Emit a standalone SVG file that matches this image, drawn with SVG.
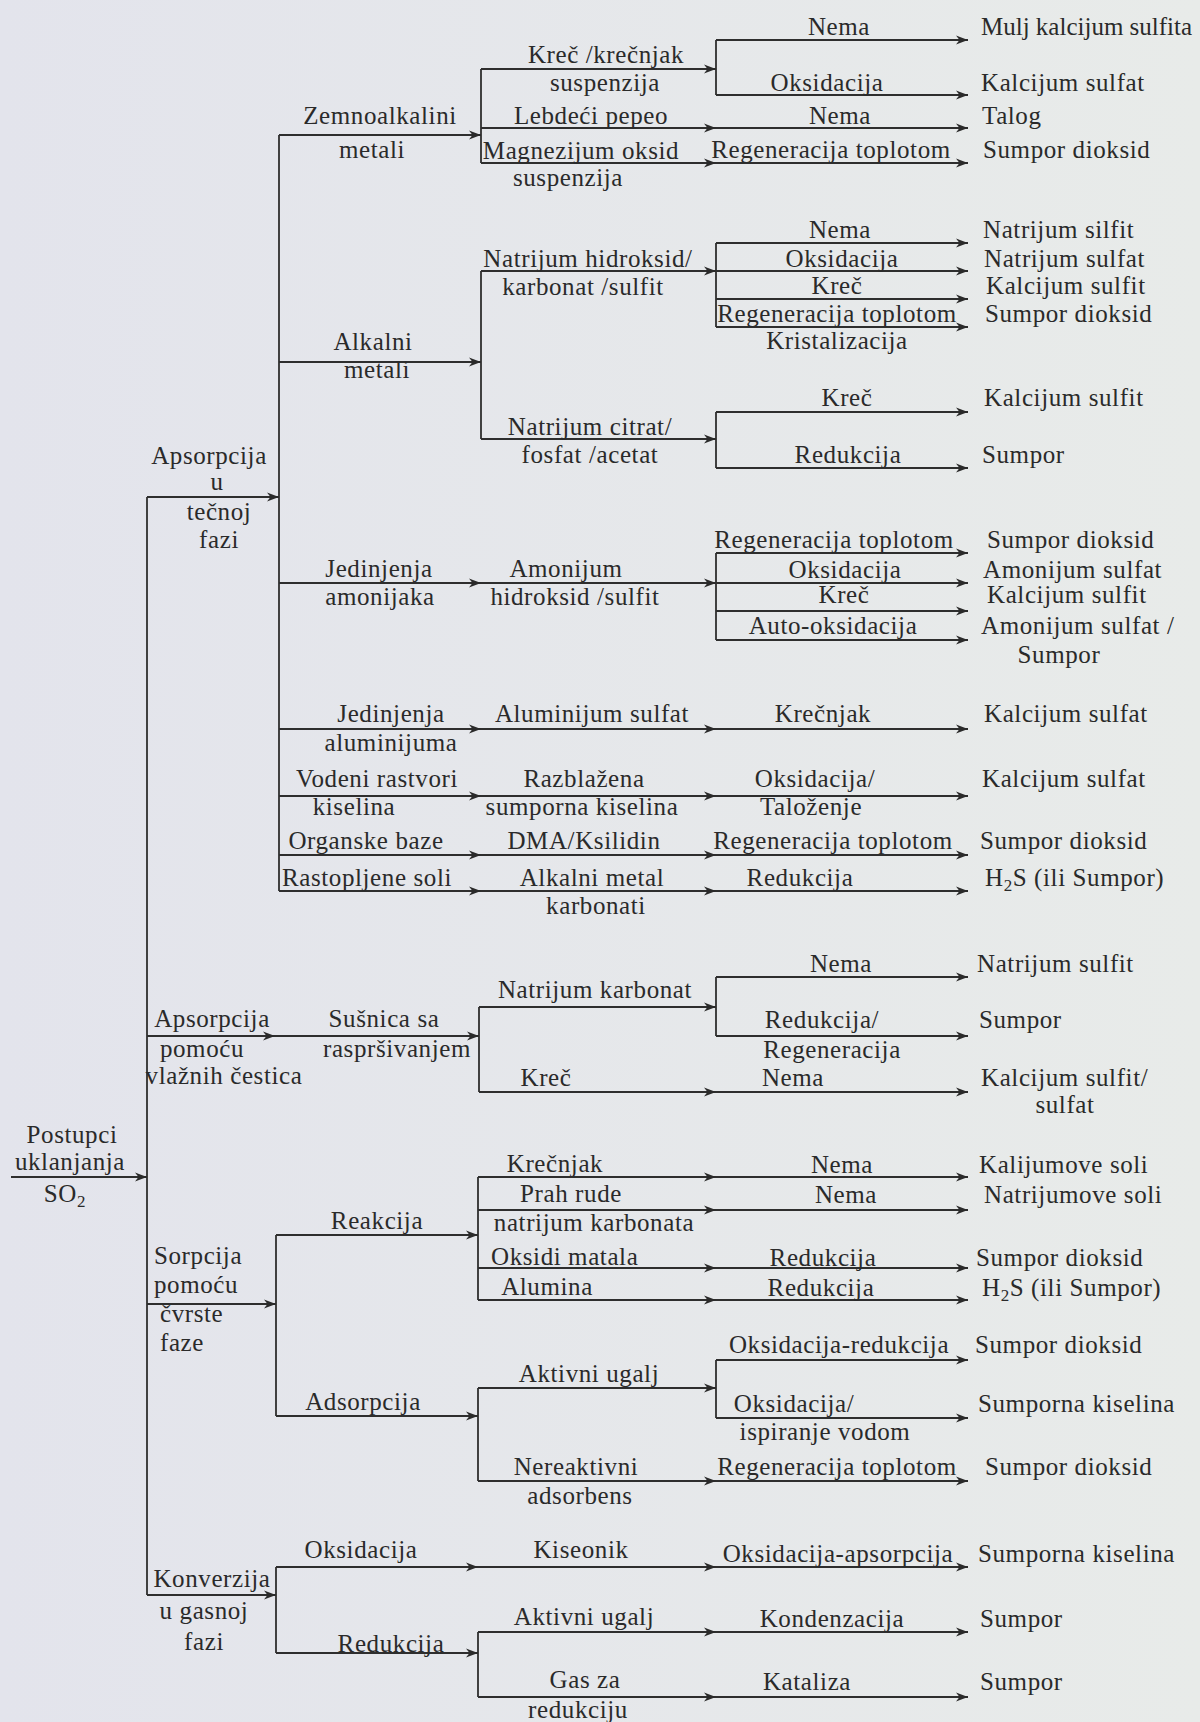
<svg xmlns="http://www.w3.org/2000/svg" width="1200" height="1722" viewBox="0 0 1200 1722">
<defs>
<linearGradient id="bg" x1="0" y1="0" x2="1" y2="0">
<stop offset="0" stop-color="#e3e4ec"/>
<stop offset="1" stop-color="#e8ebe9"/>
</linearGradient>
<marker id="ar" markerUnits="userSpaceOnUse" markerWidth="14" markerHeight="10" refX="12" refY="5" orient="auto">
<path d="M0,0.5 L12,5 L0,9.5 L3.5,5 z" fill="#2a2a2a"/>
</marker>
</defs>
<style>
.t{font-family:"Liberation Serif","Times New Roman",serif;font-size:25px;letter-spacing:0.6px;fill:#2a2a2a}
.m{text-anchor:middle}
.c path{stroke:#2e2e2e;stroke-width:1.8;fill:none}
.c path.a{marker-end:url(#ar)}
</style>
<rect width="1200" height="1722" fill="url(#bg)"/>

<g id="connectors" class="c">
<path class="a" d="M11,1177 H147"/>
<path d="M147,497 V1595"/>
<path class="a" d="M147,497 H279"/>
<path class="a" d="M147,1036 H275"/>
<path class="a" d="M147,1304 H276"/>
<path class="a" d="M147,1595 H276"/>
<path d="M279,135 V891"/>
<path class="a" d="M279,135 H481"/>
<path class="a" d="M279,362 H481"/>
<path class="a" d="M279,583 H481"/>
<path class="a" d="M279,729 H481"/>
<path class="a" d="M279,796 H481"/>
<path class="a" d="M279,855 H481"/>
<path class="a" d="M279,891 H481"/>
<path d="M481,69 V163"/>
<path class="a" d="M481,69 H716"/>
<path class="a" d="M481,128 H716"/>
<path class="a" d="M481,163 H716"/>
<path d="M716,40 V95"/>
<path class="a" d="M716,40 H968"/>
<path class="a" d="M716,95 H968"/>
<path class="a" d="M716,128 H968"/>
<path class="a" d="M716,163 H968"/>
<path d="M481,271 V439"/>
<path class="a" d="M481,271 H716"/>
<path class="a" d="M481,439 H716"/>
<path d="M716,243 V327"/>
<path class="a" d="M716,243 H968"/>
<path class="a" d="M716,271 H968"/>
<path class="a" d="M716,299 H968"/>
<path class="a" d="M716,327 H968"/>
<path d="M716,412 V468"/>
<path class="a" d="M716,412 H968"/>
<path class="a" d="M716,468 H968"/>
<path class="a" d="M481,583 H716"/>
<path d="M716,553 V640"/>
<path class="a" d="M716,553 H968"/>
<path class="a" d="M716,583 H968"/>
<path class="a" d="M716,611 H968"/>
<path class="a" d="M716,640 H968"/>
<path class="a" d="M481,729 H716"/>
<path class="a" d="M716,729 H968"/>
<path class="a" d="M481,796 H716"/>
<path class="a" d="M716,796 H968"/>
<path class="a" d="M481,855 H716"/>
<path class="a" d="M716,855 H968"/>
<path class="a" d="M481,891 H716"/>
<path class="a" d="M716,891 H968"/>
<path class="a" d="M275,1036 H479"/>
<path d="M479,1007 V1092"/>
<path class="a" d="M479,1007 H716"/>
<path class="a" d="M479,1092 H716"/>
<path d="M716,977 V1036"/>
<path class="a" d="M716,977 H968"/>
<path class="a" d="M716,1036 H968"/>
<path class="a" d="M716,1092 H968"/>
<path d="M276,1235 V1416"/>
<path class="a" d="M276,1235 H478"/>
<path class="a" d="M276,1416 H478"/>
<path d="M478,1177 V1300"/>
<path class="a" d="M478,1177 H716"/>
<path class="a" d="M478,1210 H716"/>
<path class="a" d="M478,1268 H716"/>
<path class="a" d="M478,1300 H716"/>
<path class="a" d="M716,1177 H968"/>
<path class="a" d="M716,1210 H968"/>
<path class="a" d="M716,1268 H968"/>
<path class="a" d="M716,1300 H968"/>
<path d="M478,1388 V1481"/>
<path class="a" d="M478,1388 H716"/>
<path class="a" d="M478,1481 H716"/>
<path d="M716,1360 V1418"/>
<path class="a" d="M716,1360 H968"/>
<path class="a" d="M716,1418 H968"/>
<path class="a" d="M716,1481 H968"/>
<path d="M276,1567 V1653"/>
<path class="a" d="M276,1567 H478"/>
<path class="a" d="M276,1653 H478"/>
<path class="a" d="M478,1567 H716"/>
<path class="a" d="M716,1567 H968"/>
<path d="M478,1632 V1697"/>
<path class="a" d="M478,1632 H716"/>
<path class="a" d="M478,1697 H716"/>
<path class="a" d="M716,1632 H968"/>
<path class="a" d="M716,1697 H968"/>
</g>

<g id="n-root" class="t m">
<text x="72" y="1143">Postupci</text>
<text x="70" y="1170">uklanjanja</text>
<text x="65" y="1202">SO<tspan font-size="17" dy="5">2</tspan></text>
</g>

<g id="n-liquid" class="t m">
<text x="209" y="464">Apsorpcija</text>
<text x="217" y="490">u</text>
<text x="219" y="520">tečnoj</text>
<text x="219" y="548">fazi</text>
</g>
<g id="n-wet" class="t m">
<text x="212" y="1027">Apsorpcija</text>
<text x="202" y="1057">pomoću</text>
<text x="224" y="1084">vlažnih čestica</text>
</g>
<g id="n-solid" class="t">
<text x="154" y="1264">Sorpcija</text>
<text x="154" y="1293">pomoću</text>
<text x="160" y="1322">čvrste</text>
<text x="160" y="1351">faze</text>
</g>
<g id="n-gas" class="t m">
<text x="212" y="1587">Konverzija</text>
<text x="204" y="1619">u gasnoj</text>
<text x="204" y="1650">fazi</text>
</g>

<g id="n-zemno" class="t m"><text x="380" y="124">Zemnoalkalini</text><text x="372" y="158">metali</text></g>
<g id="n-alkalni" class="t m"><text x="373" y="350">Alkalni</text><text x="377" y="378">metali</text></g>
<g id="n-amon" class="t m"><text x="379" y="577">Jedinjenja</text><text x="380" y="605">amonijaka</text></g>
<g id="n-alum" class="t m"><text x="391" y="722">Jedinjenja</text><text x="391" y="751">aluminijuma</text></g>
<g id="n-vodeni" class="t m"><text x="377" y="787">Vodeni rastvori</text><text x="354" y="815">kiselina</text></g>
<g id="n-org" class="t m"><text x="366" y="849">Organske baze</text></g>
<g id="n-rast" class="t m"><text x="367" y="886">Rastopljene soli</text></g>
<g id="n-susnica" class="t m"><text x="384" y="1027">Sušnica sa</text><text x="397" y="1057">raspršivanjem</text></g>
<g id="n-reak" class="t m"><text x="377" y="1229">Reakcija</text></g>
<g id="n-adsorp" class="t m"><text x="363" y="1410">Adsorpcija</text></g>
<g id="n-oksgas" class="t m"><text x="361" y="1558">Oksidacija</text></g>
<g id="n-redgas" class="t m"><text x="391" y="1652">Redukcija</text></g>

<g id="n-krec" class="t m"><text x="606" y="63">Kreč /krečnjak</text><text x="605" y="91">suspenzija</text></g>
<g id="n-lebdeci" class="t m"><text x="591" y="124">Lebdeći pepeo</text></g>
<g id="n-magnez" class="t m"><text x="581" y="159">Magnezijum oksid</text><text x="568" y="186">suspenzija</text></g>
<g id="n-nahidr" class="t m"><text x="588" y="267">Natrijum hidroksid/</text><text x="583" y="295">karbonat /sulfit</text></g>
<g id="n-nacitr" class="t m"><text x="590" y="435">Natrijum citrat/</text><text x="590" y="463">fosfat /acetat</text></g>
<g id="n-amhidr" class="t m"><text x="566" y="577">Amonijum</text><text x="575" y="605">hidroksid /sulfit</text></g>
<g id="n-alsulf" class="t m"><text x="592" y="722">Aluminijum sulfat</text></g>
<g id="n-razbl" class="t m"><text x="584" y="787">Razblažena</text><text x="582" y="815">sumporna kiselina</text></g>
<g id="n-dma" class="t m"><text x="584" y="849">DMA/Ksilidin</text></g>
<g id="n-alkmet" class="t m"><text x="592" y="886">Alkalni metal</text><text x="596" y="914">karbonati</text></g>
<g id="n-nakarb" class="t m"><text x="595" y="998">Natrijum karbonat</text></g>
<g id="n-krec2" class="t m"><text x="546" y="1086">Kreč</text></g>
<g id="n-krecnjak" class="t m"><text x="555" y="1172">Krečnjak</text></g>
<g id="n-prah" class="t m"><text x="571" y="1202">Prah rude</text><text x="594" y="1231">natrijum karbonata</text></g>
<g id="n-oksidi" class="t"><text x="491" y="1265">Oksidi matala</text></g>
<g id="n-alumina" class="t m"><text x="547" y="1295">Alumina</text></g>
<g id="n-aktiv1" class="t m"><text x="589" y="1382">Aktivni ugalj</text></g>
<g id="n-nereak" class="t m"><text x="576" y="1475">Nereaktivni</text><text x="580" y="1504">adsorbens</text></g>
<g id="n-kiseonik" class="t m"><text x="581" y="1558">Kiseonik</text></g>
<g id="n-aktiv2" class="t m"><text x="584" y="1625">Aktivni ugalj</text></g>
<g id="n-gasred" class="t m"><text x="585" y="1688">Gas za</text><text x="578" y="1718">redukciju</text></g>

<g id="n-processes" class="t m">
<text x="839" y="35">Nema</text>
<text x="827" y="91">Oksidacija</text>
<text x="840" y="124">Nema</text>
<text x="831" y="158">Regeneracija toplotom</text>
<text x="840" y="238">Nema</text>
<text x="842" y="267">Oksidacija</text>
<text x="837" y="294">Kreč</text>
<text x="837" y="322">Regeneracija toplotom</text>
<text x="837" y="349">Kristalizacija</text>
<text x="847" y="406">Kreč</text>
<text x="848" y="463">Redukcija</text>
<text x="834" y="548">Regeneracija toplotom</text>
<text x="845" y="578">Oksidacija</text>
<text x="844" y="603">Kreč</text>
<text x="833" y="634">Auto-oksidacija</text>
<text x="823" y="722">Krečnjak</text>
<text x="815" y="787">Oksidacija/</text>
<text x="811" y="815">Taloženje</text>
<text x="833" y="849">Regeneracija toplotom</text>
<text x="800" y="886">Redukcija</text>
<text x="841" y="972">Nema</text>
<text x="822" y="1028">Redukcija/</text>
<text x="832" y="1058">Regeneracija</text>
<text x="793" y="1086">Nema</text>
<text x="842" y="1173">Nema</text>
<text x="846" y="1203">Nema</text>
<text x="823" y="1266">Redukcija</text>
<text x="821" y="1296">Redukcija</text>
<text x="839" y="1353">Oksidacija-redukcija</text>
<text x="794" y="1412">Oksidacija/</text>
<text x="825" y="1440">ispiranje vodom</text>
<text x="837" y="1475">Regeneracija toplotom</text>
<text x="838" y="1562">Oksidacija-apsorpcija</text>
<text x="832" y="1627">Kondenzacija</text>
<text x="807" y="1690">Kataliza</text>
</g>

<g id="n-products" class="t">
<text x="981" y="35" style="letter-spacing:0px">Mulj kalcijum sulfita</text>
<text x="981" y="91">Kalcijum sulfat</text>
<text x="982" y="124">Talog</text>
<text x="983" y="158">Sumpor dioksid</text>
<text x="983" y="238">Natrijum silfit</text>
<text x="984" y="267">Natrijum sulfat</text>
<text x="986" y="294">Kalcijum sulfit</text>
<text x="985" y="322">Sumpor dioksid</text>
<text x="984" y="406">Kalcijum sulfit</text>
<text x="982" y="463">Sumpor</text>
<text x="987" y="548">Sumpor dioksid</text>
<text x="983" y="578">Amonijum sulfat</text>
<text x="987" y="603">Kalcijum sulfit</text>
<text x="981" y="634">Amonijum sulfat /</text>
<text x="1059" y="663" text-anchor="middle">Sumpor</text>
<text x="984" y="722">Kalcijum sulfat</text>
<text x="982" y="787">Kalcijum sulfat</text>
<text x="980" y="849">Sumpor dioksid</text>
<text x="985" y="886">H<tspan font-size="17" dy="5">2</tspan><tspan dy="-5">S (ili Sumpor)</tspan></text>
<text x="977" y="972">Natrijum sulfit</text>
<text x="979" y="1028">Sumpor</text>
<text x="981" y="1086">Kalcijum sulfit/</text>
<text x="1065" y="1113" text-anchor="middle">sulfat</text>
<text x="979" y="1173">Kalijumove soli</text>
<text x="984" y="1203">Natrijumove soli</text>
<text x="976" y="1266">Sumpor dioksid</text>
<text x="982" y="1296">H<tspan font-size="17" dy="5">2</tspan><tspan dy="-5">S (ili Sumpor)</tspan></text>
<text x="975" y="1353">Sumpor dioksid</text>
<text x="978" y="1412">Sumporna kiselina</text>
<text x="985" y="1475">Sumpor dioksid</text>
<text x="978" y="1562">Sumporna kiselina</text>
<text x="980" y="1627">Sumpor</text>
<text x="980" y="1690">Sumpor</text>
</g>
</svg>
